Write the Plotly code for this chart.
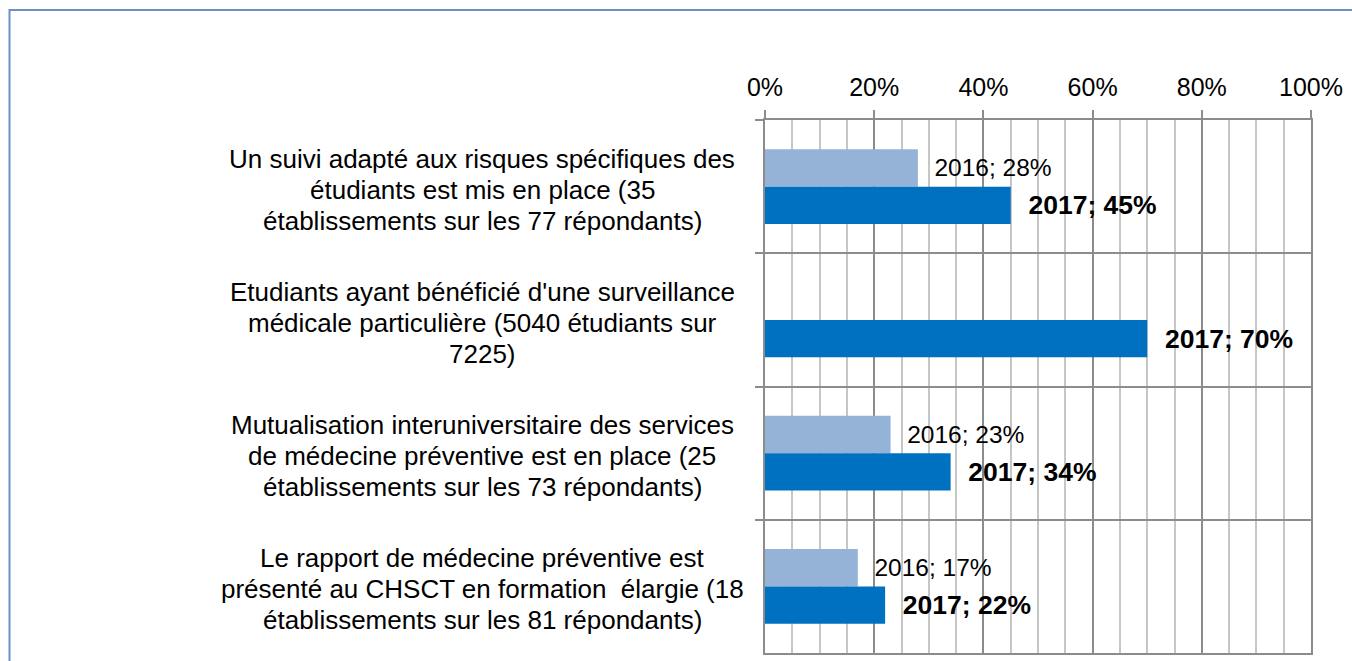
import plotly.graph_objects as go

# Survey items (top to bottom) and shares of respondents
categories = [
    "Un suivi adapté aux risques spécifiques des<br>étudiants est mis en place (35<br>établissements sur les 77 répondants)",
    "Etudiants ayant bénéficié d'une surveillance<br>médicale particulière (5040 étudiants sur<br>7225)",
    "Mutualisation interuniversitaire des services<br>de médecine préventive est en place (25<br>établissements sur les 73 répondants)",
    "Le rapport de médecine préventive est<br>présenté au CHSCT en formation  élargie (18<br>établissements sur les 81 répondants)",
]
cat_keys = ["c1", "c2", "c3", "c4"]
values_2016 = [0.28, None, 0.23, 0.17]
values_2017 = [0.45, 0.70, 0.34, 0.22]
tick_values = [0, 0.2, 0.4, 0.6, 0.8, 1.0]
tick_labels = ["0%", "20%", "40%", "60%", "80%", "100%"]

FONT = "Liberation Sans, Arial, sans-serif"
W, H = 1352, 661
M_L, M_R, M_T, M_B = 765, 41, 120, 6
PW, PH = W - M_L - M_R, H - M_T - M_B
LINE_GAP = 31  # px between lines of a category label


def px_to_paper_x(px):
    return (px - M_L) / PW


def px_to_paper_y(py):
    return (H - M_B - py) / PH


def label(year, v):
    return "" if v is None else f"\u00a0{year}; {round(v * 100)}%"


fig = go.Figure()

fig.add_trace(go.Bar(
    name="2016", y=cat_keys, x=values_2016, orientation="h",
    marker=dict(color="#95b3d7", line=dict(width=0)),
    text=["\u00a0" + label(2016, v) if v is not None else "" for v in values_2016],
    textposition="outside", constraintext="none", cliponaxis=False,
    textfont=dict(family=FONT, size=24.5, color="#000000"),
))
fig.add_trace(go.Bar(
    name="2017", y=cat_keys, x=values_2017, orientation="h",
    marker=dict(color="#0070c0", line=dict(width=0)),
    text=["\u00a0" + label(2017, v) if v is not None else "" for v in values_2017],
    textposition="outside", constraintext="none", cliponaxis=False,
    textfont=dict(family=FONT, size=26.5, color="#000000", weight="bold"),
))

# Category labels, centred, one annotation per line for tighter leading
annotations = []
for c, k in zip(categories, cat_keys):
    lines = c.split("<br>")
    mid = (len(lines) - 1) / 2
    for i, ln in enumerate(lines):
        annotations.append(dict(
            text=ln, x=px_to_paper_x(482), xref="paper", y=k, yref="y",
            yshift=(mid - i) * LINE_GAP - 3,
            xanchor="center", yanchor="middle", showarrow=False,
            font=dict(family=FONT, size=26, color="#000000"),
        ))

shapes = [
    # outer frame of the chart object
    dict(type="rect", xref="paper", yref="paper",
         x0=px_to_paper_x(9.5), x1=px_to_paper_x(1400),
         y0=px_to_paper_y(700), y1=px_to_paper_y(9.5),
         line=dict(color="#6d91c7", width=2), layer="below"),
]

fig.update_layout(
    width=W, height=H,
    margin=dict(l=M_L, r=M_R, t=M_T, b=M_B),
    paper_bgcolor="white", plot_bgcolor="white",
    barmode="group", bargap=0.44, bargroupgap=0,
    showlegend=False,
    font=dict(family=FONT, size=24, color="#000000"),
    annotations=annotations,
    shapes=shapes,
    xaxis=dict(
        side="top", range=[0, 1], tickvals=tick_values, ticktext=tick_labels,
        tickfont=dict(family=FONT, size=25, color="#000000"),
        ticklabelstandoff=4,
        showgrid=True, gridcolor="#8c8c8c", gridwidth=1.5,
        minor=dict(dtick=0.05, showgrid=True, gridcolor="#c6c6c6", gridwidth=1.5),
        ticks="outside", ticklen=8, tickcolor="#8c8c8c", tickwidth=1.5,
        showline=True, linecolor="#8c8c8c", linewidth=1.5, mirror=True,
        zeroline=False, fixedrange=True,
    ),
    yaxis=dict(
        type="category", categoryorder="array", categoryarray=cat_keys,
        autorange="reversed", showticklabels=False,
        tickson="boundaries", ticks="outside", ticklen=8,
        tickcolor="#8c8c8c", tickwidth=1.5,
        showgrid=True, gridcolor="#8c8c8c", gridwidth=1.5,
        showline=True, linecolor="#8c8c8c", linewidth=1.5, mirror=True,
        zeroline=False, fixedrange=True,
    ),
)

fig.write_html("out.html")
